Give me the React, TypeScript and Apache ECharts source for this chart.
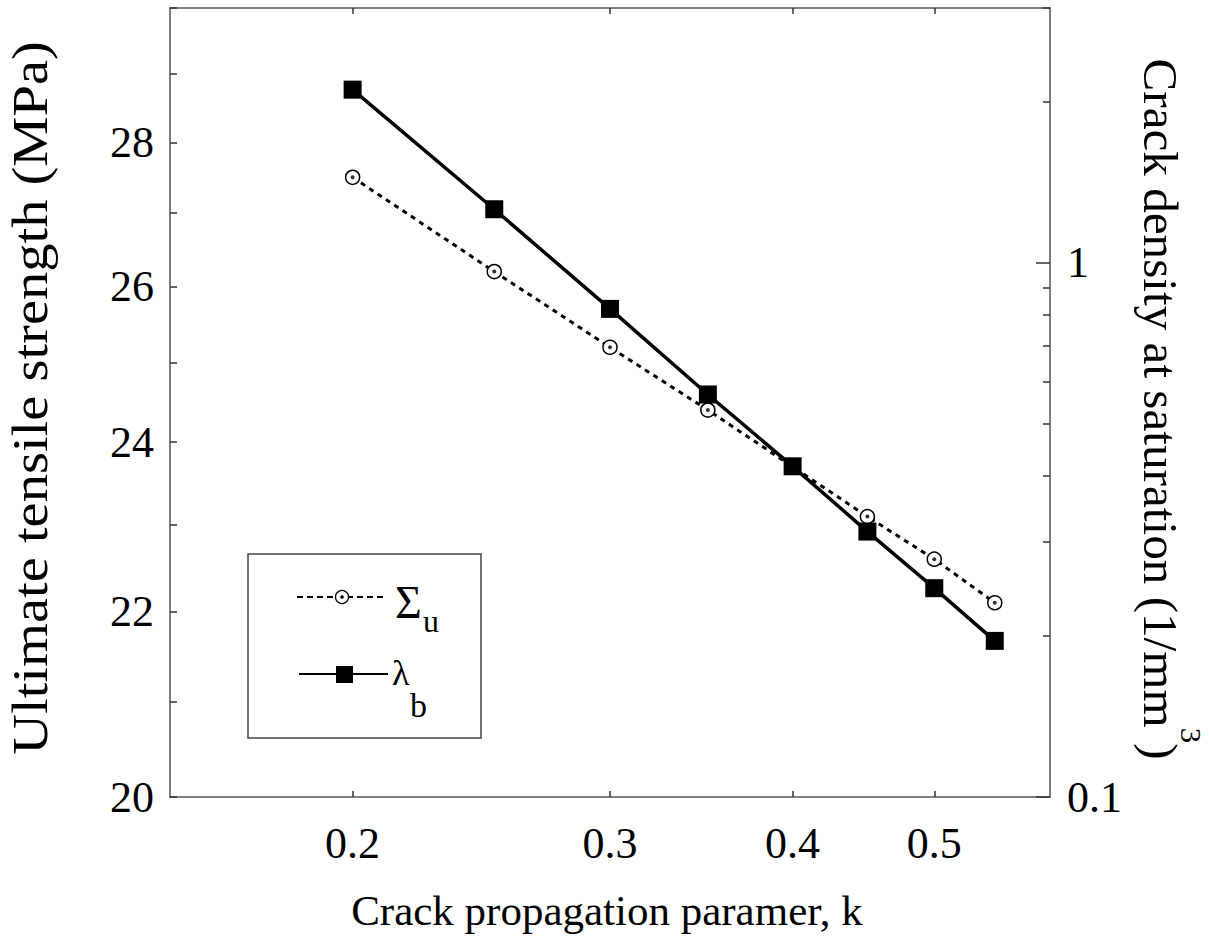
import React, { useEffect, useRef } from "react";
import * as echarts from "echarts";

// ---- data ----
const kValues = [0.2, 0.25, 0.3, 0.35, 0.4, 0.45, 0.5, 0.55];
const sigmaU = [27.5, 26.2, 25.2, 24.4, 23.7, 23.1, 22.6, 22.1]; // MPa, left axis
const lambdaB = [2.11, 1.26, 0.82, 0.567, 0.416, 0.314, 0.246, 0.196]; // 1/mm^3, right axis

const xTickValues = [0.2, 0.3, 0.4, 0.5];
const xRange = [0.15, 0.6];
const leftLabelValues = [20, 22, 24, 26, 28];
const leftTickValues = [20, 21, 22, 23, 24, 25, 26, 27, 28, 29, 30];
const leftRange = [20, 30];
const rightMajorValues = [0.1, 1];
const rightMinorValues = [0.2, 0.3, 0.4, 0.5, 0.6, 0.7, 0.8, 0.9, 2, 3];
const rightRange = [0.1, 3];

const lg = (v: number) => Math.log10(v);
const FONT = "'Liberation Serif', 'Times New Roman', serif";
const AXIS_COLOR = "#555";

export default function App() {
  const ref = useRef<HTMLDivElement>(null);

  useEffect(() => {
    if (!ref.current) return;
    const chart = echarts.init(ref.current, null, { renderer: "svg" });

    const axisLine = { show: true, onZero: false, lineStyle: { color: AXIS_COLOR, width: 1.5 } };
    const labelStyle = { fontFamily: FONT, fontSize: 44, color: "#000" };

    const sigmaData = kValues.map((k, i) => [lg(k), lg(sigmaU[i])]);
    const lambdaData = kValues.map((k, i) => [lg(k), lg(lambdaB[i])]);

    const option: any = {
      animation: false,
      backgroundColor: "#fff",
      grid: { left: 170, right: 159, top: 8, bottom: 145, containLabel: false, outerBoundsMode: "none" },
      xAxis: [
        {
          type: "value",
          position: "bottom",
          min: lg(xRange[0]),
          max: lg(xRange[1]),
          axisLine,
          axisTick: {
            show: true,
            inside: true,
            length: 6,
            customValues: xTickValues.map(lg),
            lineStyle: { color: "#333", width: 1.5 },
          },
          axisLabel: {
            show: true,
            customValues: xTickValues.map(lg),
            formatter: (v: number) => Math.pow(10, v).toFixed(1),
            margin: 24,
            ...labelStyle,
          },
          splitLine: { show: false },
        },
        {
          type: "value",
          position: "top",
          min: lg(xRange[0]),
          max: lg(xRange[1]),
          axisLine,
          axisTick: {
            show: true,
            inside: true,
            length: 6,
            customValues: xTickValues.map(lg),
            lineStyle: { color: "#333", width: 1.5 },
          },
          axisLabel: { show: false },
          splitLine: { show: false },
        },
      ],
      yAxis: [
        {
          type: "value",
          position: "left",
          min: lg(leftRange[0]),
          max: lg(leftRange[1]),
          axisLine,
          axisTick: {
            show: true,
            inside: true,
            length: 7,
            customValues: leftTickValues.map(lg),
            lineStyle: { color: "#333", width: 1.5 },
          },
          axisLabel: {
            show: true,
            customValues: leftLabelValues.map(lg),
            formatter: (v: number) => String(Math.round(Math.pow(10, v))),
            margin: 16,
            ...labelStyle,
          },
          splitLine: { show: false },
        },
        {
          type: "value",
          position: "right",
          min: lg(rightRange[0]),
          max: lg(rightRange[1]),
          axisLine,
          axisTick: {
            show: true,
            inside: true,
            length: 14,
            customValues: rightMajorValues.map(lg),
            lineStyle: { color: "#333", width: 1.5 },
          },
          axisLabel: {
            show: true,
            customValues: rightMajorValues.map(lg),
            formatter: (v: number) => String(parseFloat(Math.pow(10, v).toPrecision(2))),
            margin: 17,
            ...labelStyle,
          },
          splitLine: { show: false },
        },
        {
          type: "value",
          position: "right",
          offset: 0,
          min: lg(rightRange[0]),
          max: lg(rightRange[1]),
          axisLine: { show: false },
          axisTick: {
            show: true,
            inside: true,
            length: 7,
            customValues: rightMinorValues.map(lg),
            lineStyle: { color: "#333", width: 1.5 },
          },
          axisLabel: { show: false },
          splitLine: { show: false },
        },
      ],
      series: [
        {
          name: "Σu",
          type: "line",
          xAxisIndex: 0,
          yAxisIndex: 0,
          data: sigmaData,
          symbol: "circle",
          symbolSize: 14,
          lineStyle: { color: "#000", width: 3, type: [5, 5] },
          itemStyle: { color: "#fff", borderColor: "#000", borderWidth: 1.5 },
          silent: true,
          z: 2,
        },
        {
          name: "Σu centre",
          type: "scatter",
          xAxisIndex: 0,
          yAxisIndex: 0,
          data: sigmaData,
          symbol: "circle",
          symbolSize: 4,
          itemStyle: { color: "#000" },
          silent: true,
          z: 3,
        },
        {
          name: "λb",
          type: "line",
          xAxisIndex: 0,
          yAxisIndex: 1,
          data: lambdaData,
          symbol: "rect",
          symbolSize: 18,
          lineStyle: { color: "#000", width: 3.5, type: "solid" },
          itemStyle: { color: "#000" },
          silent: true,
          z: 4,
        },
      ],
      graphic: [
        // x axis title
        {
          type: "text",
          x: 607,
          y: 910,
          style: {
            text: "Crack propagation paramer, k",
            fontFamily: FONT,
            fontSize: 43,
            fill: "#000",
            align: "center",
            verticalAlign: "middle",
          },
        },
        // left axis title
        {
          type: "text",
          x: 30,
          y: 398,
          rotation: Math.PI / 2,
          scaleX: 1.13,
          scaleY: 1,
          style: {
            text: "Ultimate tensile strength (MPa)",
            fontFamily: FONT,
            fontSize: 50,
            fill: "#000",
            align: "center",
            verticalAlign: "middle",
          },
        },
        // right axis title
        {
          type: "text",
          x: 1171,
          y: 409,
          rotation: -Math.PI / 2,
          scaleX: 1.025,
          scaleY: 1,
          style: {
            text: "{a|Crack density at saturation (1/mm}{s|3}{a|)}",
            fontFamily: FONT,
            fill: "#000",
            align: "center",
            verticalAlign: "middle",
            rich: {
              a: { fontFamily: FONT, fontSize: 48, lineHeight: 70, verticalAlign: "bottom", fill: "#000" },
              s: { fontFamily: FONT, fontSize: 30, lineHeight: 30, verticalAlign: "top", fill: "#000" },
            },
          },
        },
        // legend box
        {
          type: "rect",
          shape: { x: 248, y: 554, width: 233, height: 184 },
          style: { fill: "#fff", stroke: "#444", lineWidth: 1.5 },
          z: 10,
        },
        {
          type: "line",
          shape: { x1: 297, y1: 597, x2: 384, y2: 597 },
          style: { stroke: "#000", lineWidth: 2, lineDash: [6, 4] },
          z: 11,
        },
        {
          type: "circle",
          shape: { cx: 342, cy: 597, r: 6.5 },
          style: { fill: "#fff", stroke: "#000", lineWidth: 1.3 },
          z: 12,
        },
        {
          type: "circle",
          shape: { cx: 342, cy: 597, r: 1.8 },
          style: { fill: "#000" },
          z: 13,
        },
        {
          type: "line",
          shape: { x1: 299, y1: 674, x2: 388, y2: 674 },
          style: { stroke: "#000", lineWidth: 2 },
          z: 11,
        },
        {
          type: "rect",
          shape: { x: 336, y: 666, width: 17, height: 17 },
          style: { fill: "#000" },
          z: 12,
        },
        {
          type: "text",
          x: 395,
          y: 602,
          style: { text: "Σ", fontFamily: FONT, fontSize: 46, fill: "#000", align: "left", verticalAlign: "middle" },
          z: 12,
        },
        {
          type: "text",
          x: 423,
          y: 621,
          style: { text: "u", fontFamily: FONT, fontSize: 32, fill: "#000", align: "left", verticalAlign: "middle" },
          z: 12,
        },
        {
          type: "text",
          x: 392,
          y: 673,
          style: { text: "λ", fontFamily: FONT, fontSize: 36, fill: "#000", align: "left", verticalAlign: "middle" },
          z: 12,
        },
        {
          type: "text",
          x: 410,
          y: 705,
          style: { text: "b", fontFamily: FONT, fontSize: 34, fill: "#000", align: "left", verticalAlign: "middle" },
          z: 12,
        },
      ],
    };

    chart.setOption(option);
    return () => chart.dispose();
  }, []);

  return (
    <div
      ref={ref}
      style={{ position: "fixed", left: 0, top: 0, width: 1209, height: 942, background: "#fff" }}
    />
  );
}
